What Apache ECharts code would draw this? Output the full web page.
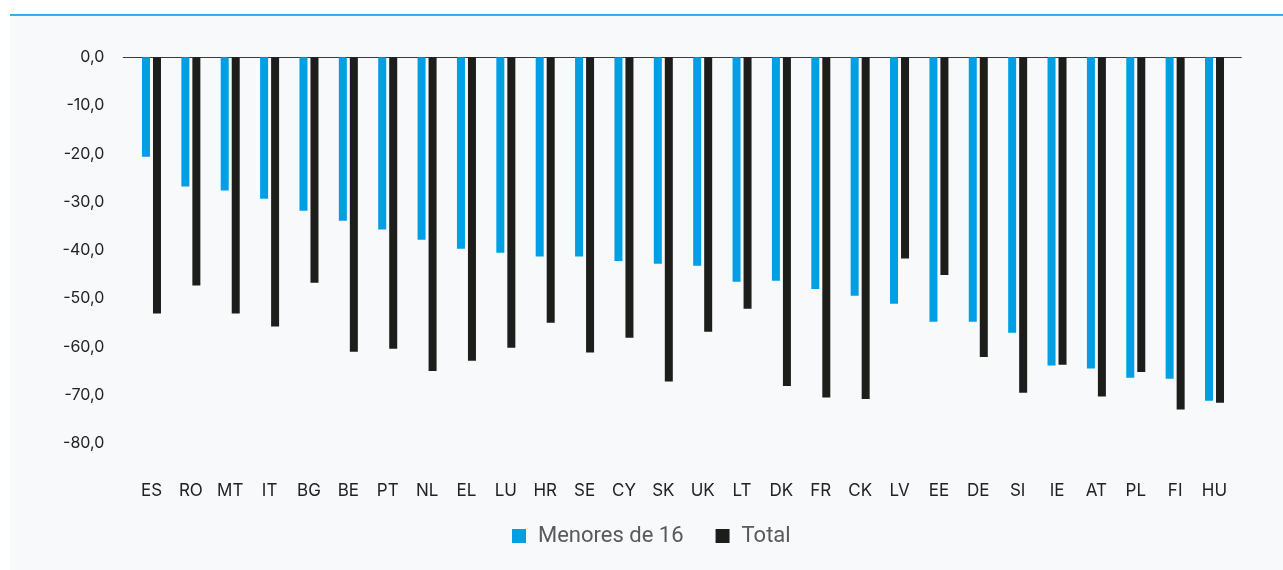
<!DOCTYPE html>
<html>
<head>
<meta charset="utf-8">
<script src="https://cdn.jsdelivr.net/npm/echarts@6/dist/echarts.min.js"></script>
<style>
  html, body { margin: 0; padding: 0; background: #ffffff; width: 1283px; height: 570px; overflow: hidden; }
  #panel { position: absolute; left: 10px; top: 14px; width: 1273px; height: 556px; background: #f8f9fb; border-top: 2px solid #35b0e6; box-sizing: border-box; }
  #chart { position: absolute; left: 0; top: 0; width: 1283px; height: 570px; }
</style>
</head>
<body>
<div id="panel"></div>
<div id="chart"></div>
<script>
const categories = ['ES','RO','MT','IT','BG','BE','PT','NL','EL','LU','HR','SE','CY','SK','UK','LT','DK','FR','CK','LV','EE','DE','SI','IE','AT','PL','FI','HU'];
const menores16 = [-20.6,-26.8,-27.6,-29.3,-31.8,-33.9,-35.7,-37.8,-39.7,-40.5,-41.3,-41.3,-42.2,-42.8,-43.2,-46.5,-46.3,-48.0,-49.4,-51.1,-54.8,-54.8,-57.1,-63.9,-64.5,-66.4,-66.6,-71.2];
const total = [-53.1,-47.3,-53.1,-55.8,-46.7,-61.0,-60.4,-65.0,-62.9,-60.2,-55.0,-61.2,-58.1,-67.2,-56.9,-52.1,-68.1,-70.5,-70.8,-41.7,-45.1,-62.1,-69.5,-63.7,-70.3,-65.2,-73.0,-71.6];
const seriesNames = ['Menores de 16', 'Total'];
const yMin = -80, yMax = 0, yStep = 10;

const chart = echarts.init(document.getElementById('chart'), null, { renderer: 'canvas' });
const fmt = v => v.toFixed(1).replace('.', ',');
chart.setOption({
  backgroundColor: 'transparent',
  animation: false,
  color: ['#009fe3', '#1d1d1b'],
  legend: {
    data: seriesNames,
    left: 507,
    top: 520,
    icon: 'rect',
    itemWidth: 14,
    itemHeight: 14,
    itemGap: 32,
    textStyle: { fontFamily: 'Roboto', fontSize: 22, color: '#5a5a5a', padding: [0, 0, 0, 7] }
  },
  grid: [
    { left: 131.8, right: 48.8, top: 57.3, bottom: 126.7 },
    { left: 123.3, right: 41.7, top: 57.3, bottom: 126.7 }
  ],
  xAxis: [
    {
      type: 'category', gridIndex: 0, data: categories, position: 'bottom',
      axisLine: { show: false, onZero: false }, axisTick: { show: false },
      axisLabel: { margin: 39, fontFamily: 'Inter', fontSize: 17, color: '#222' }
    },
    {
      type: 'value', gridIndex: 1, min: 0, max: 1, position: 'top',
      axisLine: { show: true, onZero: false, lineStyle: { color: '#3a3a3a', width: 1.2 } },
      axisTick: { show: false }, axisLabel: { show: false }, splitLine: { show: false }
    }
  ],
  yAxis: [
    { type: 'value', gridIndex: 0, min: yMin, max: yMax, interval: yStep, show: false },
    {
      type: 'value', gridIndex: 1, min: yMin, max: yMax, interval: yStep,
      axisLine: { show: false }, axisTick: { show: false }, splitLine: { show: false },
      axisLabel: { margin: 19, fontFamily: 'Inter', fontSize: 16, color: '#222', formatter: fmt }
    }
  ],
  series: [
    { name: seriesNames[0], type: 'bar', xAxisIndex: 0, yAxisIndex: 0, data: menores16, barWidth: 8, barGap: '37.5%' },
    { name: seriesNames[1], type: 'bar', xAxisIndex: 0, yAxisIndex: 0, data: total, barWidth: 8, barGap: '37.5%' }
  ]
});
</script>
</body>
</html>
